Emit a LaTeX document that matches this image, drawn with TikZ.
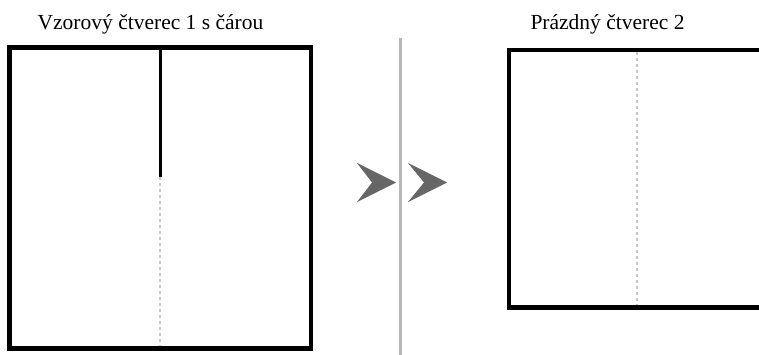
\documentclass[tikz,border=0pt]{standalone}
\usepackage{fontspec}
\setmainfont{Liberation Serif}
\begin{document}
\begin{tikzpicture}[x=1pt,y=-1pt,
  frame/.style={draw=black,line width=4.5pt,line join=miter},
  guide/.style={draw=black!22,line width=1.8pt,dash pattern=on 3pt off 3pt},
  seam/.style={draw=black,line width=3pt},
  divider/.style={draw=black!28,line width=2.4pt},
  chevron/.style={fill=black!60,draw=none},
  title/.style={anchor=base,inner sep=0pt,font=\fontsize{21.5}{24}\selectfont}]
\useasboundingbox (0,0) rectangle (759,355);
\clip (0,0) rectangle (759,355);

% titles
\node[title] (t1) at (150.5,30) {Vzorový čtverec 1 s čárou};
\node[title] (t2) at (607.5,30) {Prázdný čtverec 2};

% left square with its drawn line and the dotted rest
\coordinate (lt) at (160,47.5);
\coordinate (lm) at (160,177);
\coordinate (lb) at (160,346);
\draw[guide] (lm) -- (lb);
\draw[seam] (lt) -- (lm);
\draw[frame] (9.5,47.5) rectangle (311,348.5);

% right square, running past the right edge
\coordinate (rt) at (637,52);
\coordinate (rb) at (637,305);
\draw[guide] (rt) -- (rb);
\draw[frame] (880,50) -- (509,50) -- (509,307.5) -- (880,307.5);

% divider
\coordinate (d1) at (400.5,38);
\coordinate (d2) at (400.5,360);
\draw[divider] (d1) -- (d2);

% chevrons
\fill[chevron] (357,163) -- (396,182.5) -- (357,202) -- (372,182.5) -- cycle;
\fill[chevron] (408,163) -- (447,182.5) -- (408,202) -- (424,182.5) -- cycle;
\end{tikzpicture}
\end{document}
